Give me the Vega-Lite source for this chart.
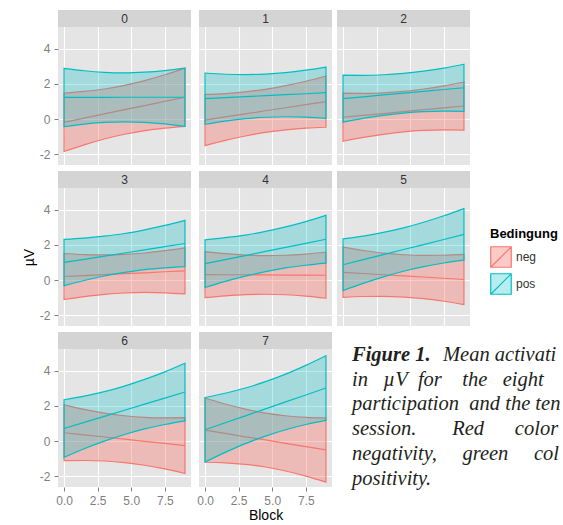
{
"$schema": "https://vega.github.io/schema/vega-lite/v6.json",
"padding": {"left": 22, "top": 10, "right": 0, "bottom": 0},
"data": {"values": [
{"panel":"0","Bedingung":"neg","Block":0,"lo":-1.85,"mid":-0.19,"hi":1.47},
{"panel":"0","Bedingung":"neg","Block":1.5,"lo":-1.47,"mid":0.05,"hi":1.57},
{"panel":"0","Bedingung":"neg","Block":3,"lo":-1.14,"mid":0.29,"hi":1.71},
{"panel":"0","Bedingung":"neg","Block":4.5,"lo":-0.87,"mid":0.53,"hi":1.92},
{"panel":"0","Bedingung":"neg","Block":6,"lo":-0.66,"mid":0.76,"hi":2.19},
{"panel":"0","Bedingung":"neg","Block":7.5,"lo":-0.52,"mid":1.00,"hi":2.52},
{"panel":"0","Bedingung":"neg","Block":9,"lo":-0.42,"mid":1.24,"hi":2.90},
{"panel":"0","Bedingung":"pos","Block":0,"lo":-0.43,"mid":1.23,"hi":2.89},
{"panel":"0","Bedingung":"pos","Block":1.5,"lo":-0.29,"mid":1.23,"hi":2.75},
{"panel":"0","Bedingung":"pos","Block":3,"lo":-0.19,"mid":1.23,"hi":2.66},
{"panel":"0","Bedingung":"pos","Block":4.5,"lo":-0.16,"mid":1.24,"hi":2.63},
{"panel":"0","Bedingung":"pos","Block":6,"lo":-0.19,"mid":1.24,"hi":2.67},
{"panel":"0","Bedingung":"pos","Block":7.5,"lo":-0.28,"mid":1.24,"hi":2.76},
{"panel":"0","Bedingung":"pos","Block":9,"lo":-0.42,"mid":1.24,"hi":2.90},
{"panel":"1","Bedingung":"neg","Block":0,"lo":-1.52,"mid":-0.06,"hi":1.40},
{"panel":"1","Bedingung":"neg","Block":1.5,"lo":-1.22,"mid":0.12,"hi":1.45},
{"panel":"1","Bedingung":"neg","Block":3,"lo":-0.97,"mid":0.29,"hi":1.55},
{"panel":"1","Bedingung":"neg","Block":4.5,"lo":-0.76,"mid":0.47,"hi":1.69},
{"panel":"1","Bedingung":"neg","Block":6,"lo":-0.62,"mid":0.64,"hi":1.90},
{"panel":"1","Bedingung":"neg","Block":7.5,"lo":-0.52,"mid":0.82,"hi":2.15},
{"panel":"1","Bedingung":"neg","Block":9,"lo":-0.47,"mid":0.99,"hi":2.45},
{"panel":"1","Bedingung":"pos","Block":0,"lo":-0.30,"mid":1.16,"hi":2.62},
{"panel":"1","Bedingung":"pos","Block":1.5,"lo":-0.12,"mid":1.22,"hi":2.55},
{"panel":"1","Bedingung":"pos","Block":3,"lo":0.02,"mid":1.27,"hi":2.53},
{"panel":"1","Bedingung":"pos","Block":4.5,"lo":0.10,"mid":1.33,"hi":2.56},
{"panel":"1","Bedingung":"pos","Block":6,"lo":0.13,"mid":1.39,"hi":2.64},
{"panel":"1","Bedingung":"pos","Block":7.5,"lo":0.11,"mid":1.44,"hi":2.78},
{"panel":"1","Bedingung":"pos","Block":9,"lo":0.04,"mid":1.50,"hi":2.96},
{"panel":"2","Bedingung":"neg","Block":0,"lo":-1.27,"mid":0.10,"hi":1.47},
{"panel":"2","Bedingung":"neg","Block":1.5,"lo":-1.05,"mid":0.21,"hi":1.46},
{"panel":"2","Bedingung":"neg","Block":3,"lo":-0.87,"mid":0.31,"hi":1.49},
{"panel":"2","Bedingung":"neg","Block":4.5,"lo":-0.73,"mid":0.42,"hi":1.57},
{"panel":"2","Bedingung":"neg","Block":6,"lo":-0.65,"mid":0.53,"hi":1.71},
{"panel":"2","Bedingung":"neg","Block":7.5,"lo":-0.62,"mid":0.63,"hi":1.89},
{"panel":"2","Bedingung":"neg","Block":9,"lo":-0.63,"mid":0.74,"hi":2.11},
{"panel":"2","Bedingung":"pos","Block":0,"lo":-0.18,"mid":1.16,"hi":2.50},
{"panel":"2","Bedingung":"pos","Block":1.5,"lo":0.04,"mid":1.26,"hi":2.49},
{"panel":"2","Bedingung":"pos","Block":3,"lo":0.21,"mid":1.37,"hi":2.52},
{"panel":"2","Bedingung":"pos","Block":4.5,"lo":0.34,"mid":1.47,"hi":2.60},
{"panel":"2","Bedingung":"pos","Block":6,"lo":0.42,"mid":1.57,"hi":2.73},
{"panel":"2","Bedingung":"pos","Block":7.5,"lo":0.45,"mid":1.68,"hi":2.90},
{"panel":"2","Bedingung":"pos","Block":9,"lo":0.44,"mid":1.78,"hi":3.12},
{"panel":"3","Bedingung":"neg","Block":0,"lo":-1.11,"mid":0.20,"hi":1.51},
{"panel":"3","Bedingung":"neg","Block":1.5,"lo":-0.95,"mid":0.25,"hi":1.45},
{"panel":"3","Bedingung":"neg","Block":3,"lo":-0.82,"mid":0.31,"hi":1.43},
{"panel":"3","Bedingung":"neg","Block":4.5,"lo":-0.74,"mid":0.36,"hi":1.46},
{"panel":"3","Bedingung":"neg","Block":6,"lo":-0.71,"mid":0.41,"hi":1.54},
{"panel":"3","Bedingung":"neg","Block":7.5,"lo":-0.73,"mid":0.47,"hi":1.67},
{"panel":"3","Bedingung":"neg","Block":9,"lo":-0.79,"mid":0.52,"hi":1.83},
{"panel":"3","Bedingung":"pos","Block":0,"lo":-0.32,"mid":1.00,"hi":2.32},
{"panel":"3","Bedingung":"pos","Block":1.5,"lo":-0.03,"mid":1.18,"hi":2.39},
{"panel":"3","Bedingung":"pos","Block":3,"lo":0.23,"mid":1.36,"hi":2.50},
{"panel":"3","Bedingung":"pos","Block":4.5,"lo":0.43,"mid":1.54,"hi":2.65},
{"panel":"3","Bedingung":"pos","Block":6,"lo":0.59,"mid":1.72,"hi":2.86},
{"panel":"3","Bedingung":"pos","Block":7.5,"lo":0.69,"mid":1.90,"hi":3.11},
{"panel":"3","Bedingung":"pos","Block":9,"lo":0.76,"mid":2.08,"hi":3.40},
{"panel":"4","Bedingung":"neg","Block":0,"lo":-1.00,"mid":0.31,"hi":1.62},
{"panel":"4","Bedingung":"neg","Block":1.5,"lo":-0.90,"mid":0.30,"hi":1.50},
{"panel":"4","Bedingung":"neg","Block":3,"lo":-0.83,"mid":0.30,"hi":1.42},
{"panel":"4","Bedingung":"neg","Block":4.5,"lo":-0.81,"mid":0.29,"hi":1.39},
{"panel":"4","Bedingung":"neg","Block":6,"lo":-0.84,"mid":0.28,"hi":1.41},
{"panel":"4","Bedingung":"neg","Block":7.5,"lo":-0.92,"mid":0.28,"hi":1.48},
{"panel":"4","Bedingung":"neg","Block":9,"lo":-1.04,"mid":0.27,"hi":1.58},
{"panel":"4","Bedingung":"pos","Block":0,"lo":-0.43,"mid":0.93,"hi":2.29},
{"panel":"4","Bedingung":"pos","Block":1.5,"lo":-0.08,"mid":1.16,"hi":2.41},
{"panel":"4","Bedingung":"pos","Block":3,"lo":0.22,"mid":1.39,"hi":2.56},
{"panel":"4","Bedingung":"pos","Block":4.5,"lo":0.48,"mid":1.63,"hi":2.77},
{"panel":"4","Bedingung":"pos","Block":6,"lo":0.69,"mid":1.86,"hi":3.03},
{"panel":"4","Bedingung":"pos","Block":7.5,"lo":0.84,"mid":2.09,"hi":3.33},
{"panel":"4","Bedingung":"pos","Block":9,"lo":0.96,"mid":2.32,"hi":3.68},
{"panel":"5","Bedingung":"neg","Block":0,"lo":-0.99,"mid":0.44,"hi":1.87},
{"panel":"5","Bedingung":"neg","Block":1.5,"lo":-0.94,"mid":0.37,"hi":1.68},
{"panel":"5","Bedingung":"neg","Block":3,"lo":-0.93,"mid":0.30,"hi":1.53},
{"panel":"5","Bedingung":"neg","Block":4.5,"lo":-0.97,"mid":0.24,"hi":1.44},
{"panel":"5","Bedingung":"neg","Block":6,"lo":-1.06,"mid":0.17,"hi":1.40},
{"panel":"5","Bedingung":"neg","Block":7.5,"lo":-1.21,"mid":0.10,"hi":1.41},
{"panel":"5","Bedingung":"neg","Block":9,"lo":-1.40,"mid":0.03,"hi":1.46},
{"panel":"5","Bedingung":"pos","Block":0,"lo":-0.60,"mid":0.87,"hi":2.34},
{"panel":"5","Bedingung":"pos","Block":1.5,"lo":-0.19,"mid":1.16,"hi":2.50},
{"panel":"5","Bedingung":"pos","Block":3,"lo":0.18,"mid":1.45,"hi":2.71},
{"panel":"5","Bedingung":"pos","Block":4.5,"lo":0.50,"mid":1.74,"hi":2.97},
{"panel":"5","Bedingung":"pos","Block":6,"lo":0.76,"mid":2.02,"hi":3.29},
{"panel":"5","Bedingung":"pos","Block":7.5,"lo":0.97,"mid":2.31,"hi":3.66},
{"panel":"5","Bedingung":"pos","Block":9,"lo":1.13,"mid":2.60,"hi":4.07},
{"panel":"6","Bedingung":"neg","Block":0,"lo":-1.12,"mid":0.47,"hi":2.06},
{"panel":"6","Bedingung":"neg","Block":1.5,"lo":-1.11,"mid":0.35,"hi":1.80},
{"panel":"6","Bedingung":"neg","Block":3,"lo":-1.14,"mid":0.23,"hi":1.59},
{"panel":"6","Bedingung":"neg","Block":4.5,"lo":-1.23,"mid":0.11,"hi":1.44},
{"panel":"6","Bedingung":"neg","Block":6,"lo":-1.38,"mid":-0.02,"hi":1.35},
{"panel":"6","Bedingung":"neg","Block":7.5,"lo":-1.59,"mid":-0.14,"hi":1.32},
{"panel":"6","Bedingung":"neg","Block":9,"lo":-1.85,"mid":-0.26,"hi":1.33},
{"panel":"6","Bedingung":"pos","Block":0,"lo":-0.93,"mid":0.71,"hi":2.35},
{"panel":"6","Bedingung":"pos","Block":1.5,"lo":-0.44,"mid":1.06,"hi":2.56},
{"panel":"6","Bedingung":"pos","Block":3,"lo":-0.01,"mid":1.40,"hi":2.81},
{"panel":"6","Bedingung":"pos","Block":4.5,"lo":0.37,"mid":1.75,"hi":3.13},
{"panel":"6","Bedingung":"pos","Block":6,"lo":0.69,"mid":2.10,"hi":3.51},
{"panel":"6","Bedingung":"pos","Block":7.5,"lo":0.94,"mid":2.44,"hi":3.94},
{"panel":"6","Bedingung":"pos","Block":9,"lo":1.15,"mid":2.79,"hi":4.43},
{"panel":"7","Bedingung":"neg","Block":0,"lo":-1.21,"mid":0.62,"hi":2.45},
{"panel":"7","Bedingung":"neg","Block":1.5,"lo":-1.24,"mid":0.43,"hi":2.11},
{"panel":"7","Bedingung":"neg","Block":3,"lo":-1.33,"mid":0.24,"hi":1.82},
{"panel":"7","Bedingung":"neg","Block":4.5,"lo":-1.48,"mid":0.06,"hi":1.59},
{"panel":"7","Bedingung":"neg","Block":6,"lo":-1.71,"mid":-0.13,"hi":1.44},
{"panel":"7","Bedingung":"neg","Block":7.5,"lo":-2.00,"mid":-0.32,"hi":1.35},
{"panel":"7","Bedingung":"neg","Block":9,"lo":-2.34,"mid":-0.51,"hi":1.32},
{"panel":"7","Bedingung":"pos","Block":0,"lo":-1.20,"mid":0.64,"hi":2.48},
{"panel":"7","Bedingung":"pos","Block":1.5,"lo":-0.65,"mid":1.04,"hi":2.72},
{"panel":"7","Bedingung":"pos","Block":3,"lo":-0.15,"mid":1.43,"hi":3.02},
{"panel":"7","Bedingung":"pos","Block":4.5,"lo":0.28,"mid":1.83,"hi":3.38},
{"panel":"7","Bedingung":"pos","Block":6,"lo":0.64,"mid":2.23,"hi":3.81},
{"panel":"7","Bedingung":"pos","Block":7.5,"lo":0.94,"mid":2.62,"hi":4.31},
{"panel":"7","Bedingung":"pos","Block":9,"lo":1.18,"mid":3.02,"hi":4.86}
]},
"columns": 3,
"spacing": {"row": 6, "column": 5},
"resolve": {"scale": {"fill": "shared", "stroke": "shared"}, "legend": {"fill": "shared", "stroke": "shared"}},
"concat": [
{"width":133,"height":155,"transform":[{"filter":{"field":"panel","equal":"0"}}],
 "layer":[
  {"transform":[{"filter":"datum.Bedingung === 'neg'"}],"mark":{"type":"area","strokeWidth":1.2,"interpolate":"monotone"},
   "encoding":{
    "x":{"field":"Block","type":"quantitative","scale":{"domain":[-0.45,9.45],"nice":false,"zero":false},"axis":{"values":[0,1.25,2.5,3.75,5,6.25,7.5,8.75],"grid":true,"gridColor":{"condition":{"test":"datum.value % 2.5 === 0","value":"#ffffff"},"value":"#f2f2f2"},"gridWidth":{"condition":{"test":"datum.value % 2.5 === 0","value":1.1},"value":0.55},"labels":false,"ticks":false,"title":null}},
    "y":{"field":"lo","type":"quantitative","scale":{"domain":[-2.62,6.21],"nice":false,"zero":false},"axis":{"values":[-2,-1,0,1,2,3,4,5],"grid":true,"gridColor":{"condition":{"test":"datum.value % 2 === 0","value":"#ffffff"},"value":"#f2f2f2"},"gridWidth":{"condition":{"test":"datum.value % 2 === 0","value":1.1},"value":0.55},"labelExpr":"datum.value % 2 === 0 ? '' + datum.value : ''","tickColor":{"condition":{"test":"datum.value % 2 === 0","value":"#7f7f7f"},"value":"transparent"},"labelPadding":4,"title":null}},
    "y2":{"field":"hi"},
    "fill":{"field":"Bedingung","type":"nominal","scale":{"domain":["neg","pos"],"range":["rgba(248,118,109,0.38)","rgba(0,191,196,0.28)"]},"legend":{"symbolType":"M-1,-1H1V1H-1Z M-1,1L1,-1"}},
    "stroke":{"field":"Bedingung","type":"nominal","scale":{"domain":["neg","pos"],"range":["#F8766D","#00BFC4"]},"legend":{"symbolType":"M-1,-1H1V1H-1Z M-1,1L1,-1"}}}},
  {"transform":[{"filter":"datum.Bedingung === 'neg'"}],"mark":{"type":"line","strokeWidth":1.2},
   "encoding":{"x":{"field":"Block","type":"quantitative"},"y":{"field":"mid","type":"quantitative"},"stroke":{"field":"Bedingung","type":"nominal"}}},
  {"transform":[{"filter":"datum.Bedingung === 'pos'"}],"mark":{"type":"area","strokeWidth":1.2,"interpolate":"monotone"},
   "encoding":{"x":{"field":"Block","type":"quantitative"},"y":{"field":"lo","type":"quantitative"},"y2":{"field":"hi"},"fill":{"field":"Bedingung","type":"nominal"},"stroke":{"field":"Bedingung","type":"nominal"}}},
  {"transform":[{"filter":"datum.Bedingung === 'pos'"}],"mark":{"type":"line","strokeWidth":1.2},
   "encoding":{"x":{"field":"Block","type":"quantitative"},"y":{"field":"mid","type":"quantitative"},"stroke":{"field":"Bedingung","type":"nominal"}}},
  {"transform":[{"filter":"datum.Block === 0 && datum.Bedingung === 'neg'"}],"mark":{"type":"rect","fill":"#d4d4d4"},
   "encoding":{"x":{"datum":-0.45},"x2":{"datum":9.45},"y":{"datum":5.24},"y2":{"datum":6.21}}},
  {"transform":[{"filter":"datum.Block === 0 && datum.Bedingung === 'neg'"}],"mark":{"type":"text","fontSize":12,"color":"#333333"},
   "encoding":{"x":{"datum":4.5},"y":{"datum":5.725},"text":{"field":"panel"}}}
 ]},
{"width":133,"height":155,"transform":[{"filter":{"field":"panel","equal":"1"}}],
 "layer":[
  {"transform":[{"filter":"datum.Bedingung === 'neg'"}],"mark":{"type":"area","strokeWidth":1.2,"interpolate":"monotone"},
   "encoding":{
    "x":{"field":"Block","type":"quantitative","scale":{"domain":[-0.45,9.45],"nice":false,"zero":false},"axis":{"values":[0,1.25,2.5,3.75,5,6.25,7.5,8.75],"grid":true,"gridColor":{"condition":{"test":"datum.value % 2.5 === 0","value":"#ffffff"},"value":"#f2f2f2"},"gridWidth":{"condition":{"test":"datum.value % 2.5 === 0","value":1.1},"value":0.55},"labels":false,"ticks":false,"title":null}},
    "y":{"field":"lo","type":"quantitative","scale":{"domain":[-2.62,6.21],"nice":false,"zero":false},"axis":{"values":[-2,-1,0,1,2,3,4,5],"grid":true,"gridColor":{"condition":{"test":"datum.value % 2 === 0","value":"#ffffff"},"value":"#f2f2f2"},"gridWidth":{"condition":{"test":"datum.value % 2 === 0","value":1.1},"value":0.55},"labels":false,"ticks":false,"title":null}},
    "y2":{"field":"hi"},
    "fill":{"field":"Bedingung","type":"nominal","scale":{"domain":["neg","pos"],"range":["rgba(248,118,109,0.38)","rgba(0,191,196,0.28)"]}},
    "stroke":{"field":"Bedingung","type":"nominal","scale":{"domain":["neg","pos"],"range":["#F8766D","#00BFC4"]}}}},
  {"transform":[{"filter":"datum.Bedingung === 'neg'"}],"mark":{"type":"line","strokeWidth":1.2},
   "encoding":{"x":{"field":"Block","type":"quantitative"},"y":{"field":"mid","type":"quantitative"},"stroke":{"field":"Bedingung","type":"nominal"}}},
  {"transform":[{"filter":"datum.Bedingung === 'pos'"}],"mark":{"type":"area","strokeWidth":1.2,"interpolate":"monotone"},
   "encoding":{"x":{"field":"Block","type":"quantitative"},"y":{"field":"lo","type":"quantitative"},"y2":{"field":"hi"},"fill":{"field":"Bedingung","type":"nominal"},"stroke":{"field":"Bedingung","type":"nominal"}}},
  {"transform":[{"filter":"datum.Bedingung === 'pos'"}],"mark":{"type":"line","strokeWidth":1.2},
   "encoding":{"x":{"field":"Block","type":"quantitative"},"y":{"field":"mid","type":"quantitative"},"stroke":{"field":"Bedingung","type":"nominal"}}},
  {"transform":[{"filter":"datum.Block === 0 && datum.Bedingung === 'neg'"}],"mark":{"type":"rect","fill":"#d4d4d4"},
   "encoding":{"x":{"datum":-0.45},"x2":{"datum":9.45},"y":{"datum":5.24},"y2":{"datum":6.21}}},
  {"transform":[{"filter":"datum.Block === 0 && datum.Bedingung === 'neg'"}],"mark":{"type":"text","fontSize":12,"color":"#333333"},
   "encoding":{"x":{"datum":4.5},"y":{"datum":5.725},"text":{"field":"panel"}}}
 ]},
{"width":133,"height":155,"transform":[{"filter":{"field":"panel","equal":"2"}}],
 "layer":[
  {"transform":[{"filter":"datum.Bedingung === 'neg'"}],"mark":{"type":"area","strokeWidth":1.2,"interpolate":"monotone"},
   "encoding":{
    "x":{"field":"Block","type":"quantitative","scale":{"domain":[-0.45,9.45],"nice":false,"zero":false},"axis":{"values":[0,1.25,2.5,3.75,5,6.25,7.5,8.75],"grid":true,"gridColor":{"condition":{"test":"datum.value % 2.5 === 0","value":"#ffffff"},"value":"#f2f2f2"},"gridWidth":{"condition":{"test":"datum.value % 2.5 === 0","value":1.1},"value":0.55},"labels":false,"ticks":false,"title":null}},
    "y":{"field":"lo","type":"quantitative","scale":{"domain":[-2.62,6.21],"nice":false,"zero":false},"axis":{"values":[-2,-1,0,1,2,3,4,5],"grid":true,"gridColor":{"condition":{"test":"datum.value % 2 === 0","value":"#ffffff"},"value":"#f2f2f2"},"gridWidth":{"condition":{"test":"datum.value % 2 === 0","value":1.1},"value":0.55},"labels":false,"ticks":false,"title":null}},
    "y2":{"field":"hi"},
    "fill":{"field":"Bedingung","type":"nominal","scale":{"domain":["neg","pos"],"range":["rgba(248,118,109,0.38)","rgba(0,191,196,0.28)"]}},
    "stroke":{"field":"Bedingung","type":"nominal","scale":{"domain":["neg","pos"],"range":["#F8766D","#00BFC4"]}}}},
  {"transform":[{"filter":"datum.Bedingung === 'neg'"}],"mark":{"type":"line","strokeWidth":1.2},
   "encoding":{"x":{"field":"Block","type":"quantitative"},"y":{"field":"mid","type":"quantitative"},"stroke":{"field":"Bedingung","type":"nominal"}}},
  {"transform":[{"filter":"datum.Bedingung === 'pos'"}],"mark":{"type":"area","strokeWidth":1.2,"interpolate":"monotone"},
   "encoding":{"x":{"field":"Block","type":"quantitative"},"y":{"field":"lo","type":"quantitative"},"y2":{"field":"hi"},"fill":{"field":"Bedingung","type":"nominal"},"stroke":{"field":"Bedingung","type":"nominal"}}},
  {"transform":[{"filter":"datum.Bedingung === 'pos'"}],"mark":{"type":"line","strokeWidth":1.2},
   "encoding":{"x":{"field":"Block","type":"quantitative"},"y":{"field":"mid","type":"quantitative"},"stroke":{"field":"Bedingung","type":"nominal"}}},
  {"transform":[{"filter":"datum.Block === 0 && datum.Bedingung === 'neg'"}],"mark":{"type":"rect","fill":"#d4d4d4"},
   "encoding":{"x":{"datum":-0.45},"x2":{"datum":9.45},"y":{"datum":5.24},"y2":{"datum":6.21}}},
  {"transform":[{"filter":"datum.Block === 0 && datum.Bedingung === 'neg'"}],"mark":{"type":"text","fontSize":12,"color":"#333333"},
   "encoding":{"x":{"datum":4.5},"y":{"datum":5.725},"text":{"field":"panel"}}}
 ]},
{"width":133,"height":155,"transform":[{"filter":{"field":"panel","equal":"3"}}],
 "layer":[
  {"transform":[{"filter":"datum.Bedingung === 'neg'"}],"mark":{"type":"area","strokeWidth":1.2,"interpolate":"monotone"},
   "encoding":{
    "x":{"field":"Block","type":"quantitative","scale":{"domain":[-0.45,9.45],"nice":false,"zero":false},"axis":{"values":[0,1.25,2.5,3.75,5,6.25,7.5,8.75],"grid":true,"gridColor":{"condition":{"test":"datum.value % 2.5 === 0","value":"#ffffff"},"value":"#f2f2f2"},"gridWidth":{"condition":{"test":"datum.value % 2.5 === 0","value":1.1},"value":0.55},"labels":false,"ticks":false,"title":null}},
    "y":{"field":"lo","type":"quantitative","scale":{"domain":[-2.62,6.21],"nice":false,"zero":false},"axis":{"values":[-2,-1,0,1,2,3,4,5],"grid":true,"gridColor":{"condition":{"test":"datum.value % 2 === 0","value":"#ffffff"},"value":"#f2f2f2"},"gridWidth":{"condition":{"test":"datum.value % 2 === 0","value":1.1},"value":0.55},"labelExpr":"datum.value % 2 === 0 ? '' + datum.value : ''","tickColor":{"condition":{"test":"datum.value % 2 === 0","value":"#7f7f7f"},"value":"transparent"},"labelPadding":4,"title":"µV","titlePadding":3,"titleY":86}},
    "y2":{"field":"hi"},
    "fill":{"field":"Bedingung","type":"nominal","scale":{"domain":["neg","pos"],"range":["rgba(248,118,109,0.38)","rgba(0,191,196,0.28)"]}},
    "stroke":{"field":"Bedingung","type":"nominal","scale":{"domain":["neg","pos"],"range":["#F8766D","#00BFC4"]}}}},
  {"transform":[{"filter":"datum.Bedingung === 'neg'"}],"mark":{"type":"line","strokeWidth":1.2},
   "encoding":{"x":{"field":"Block","type":"quantitative"},"y":{"field":"mid","type":"quantitative"},"stroke":{"field":"Bedingung","type":"nominal"}}},
  {"transform":[{"filter":"datum.Bedingung === 'pos'"}],"mark":{"type":"area","strokeWidth":1.2,"interpolate":"monotone"},
   "encoding":{"x":{"field":"Block","type":"quantitative"},"y":{"field":"lo","type":"quantitative"},"y2":{"field":"hi"},"fill":{"field":"Bedingung","type":"nominal"},"stroke":{"field":"Bedingung","type":"nominal"}}},
  {"transform":[{"filter":"datum.Bedingung === 'pos'"}],"mark":{"type":"line","strokeWidth":1.2},
   "encoding":{"x":{"field":"Block","type":"quantitative"},"y":{"field":"mid","type":"quantitative"},"stroke":{"field":"Bedingung","type":"nominal"}}},
  {"transform":[{"filter":"datum.Block === 0 && datum.Bedingung === 'neg'"}],"mark":{"type":"rect","fill":"#d4d4d4"},
   "encoding":{"x":{"datum":-0.45},"x2":{"datum":9.45},"y":{"datum":5.24},"y2":{"datum":6.21}}},
  {"transform":[{"filter":"datum.Block === 0 && datum.Bedingung === 'neg'"}],"mark":{"type":"text","fontSize":12,"color":"#333333"},
   "encoding":{"x":{"datum":4.5},"y":{"datum":5.725},"text":{"field":"panel"}}}
 ]},
{"width":133,"height":155,"transform":[{"filter":{"field":"panel","equal":"4"}}],
 "layer":[
  {"transform":[{"filter":"datum.Bedingung === 'neg'"}],"mark":{"type":"area","strokeWidth":1.2,"interpolate":"monotone"},
   "encoding":{
    "x":{"field":"Block","type":"quantitative","scale":{"domain":[-0.45,9.45],"nice":false,"zero":false},"axis":{"values":[0,1.25,2.5,3.75,5,6.25,7.5,8.75],"grid":true,"gridColor":{"condition":{"test":"datum.value % 2.5 === 0","value":"#ffffff"},"value":"#f2f2f2"},"gridWidth":{"condition":{"test":"datum.value % 2.5 === 0","value":1.1},"value":0.55},"labels":false,"ticks":false,"title":null}},
    "y":{"field":"lo","type":"quantitative","scale":{"domain":[-2.62,6.21],"nice":false,"zero":false},"axis":{"values":[-2,-1,0,1,2,3,4,5],"grid":true,"gridColor":{"condition":{"test":"datum.value % 2 === 0","value":"#ffffff"},"value":"#f2f2f2"},"gridWidth":{"condition":{"test":"datum.value % 2 === 0","value":1.1},"value":0.55},"labels":false,"ticks":false,"title":null}},
    "y2":{"field":"hi"},
    "fill":{"field":"Bedingung","type":"nominal","scale":{"domain":["neg","pos"],"range":["rgba(248,118,109,0.38)","rgba(0,191,196,0.28)"]}},
    "stroke":{"field":"Bedingung","type":"nominal","scale":{"domain":["neg","pos"],"range":["#F8766D","#00BFC4"]}}}},
  {"transform":[{"filter":"datum.Bedingung === 'neg'"}],"mark":{"type":"line","strokeWidth":1.2},
   "encoding":{"x":{"field":"Block","type":"quantitative"},"y":{"field":"mid","type":"quantitative"},"stroke":{"field":"Bedingung","type":"nominal"}}},
  {"transform":[{"filter":"datum.Bedingung === 'pos'"}],"mark":{"type":"area","strokeWidth":1.2,"interpolate":"monotone"},
   "encoding":{"x":{"field":"Block","type":"quantitative"},"y":{"field":"lo","type":"quantitative"},"y2":{"field":"hi"},"fill":{"field":"Bedingung","type":"nominal"},"stroke":{"field":"Bedingung","type":"nominal"}}},
  {"transform":[{"filter":"datum.Bedingung === 'pos'"}],"mark":{"type":"line","strokeWidth":1.2},
   "encoding":{"x":{"field":"Block","type":"quantitative"},"y":{"field":"mid","type":"quantitative"},"stroke":{"field":"Bedingung","type":"nominal"}}},
  {"transform":[{"filter":"datum.Block === 0 && datum.Bedingung === 'neg'"}],"mark":{"type":"rect","fill":"#d4d4d4"},
   "encoding":{"x":{"datum":-0.45},"x2":{"datum":9.45},"y":{"datum":5.24},"y2":{"datum":6.21}}},
  {"transform":[{"filter":"datum.Block === 0 && datum.Bedingung === 'neg'"}],"mark":{"type":"text","fontSize":12,"color":"#333333"},
   "encoding":{"x":{"datum":4.5},"y":{"datum":5.725},"text":{"field":"panel"}}}
 ]},
{"width":133,"height":155,"transform":[{"filter":{"field":"panel","equal":"5"}}],
 "layer":[
  {"transform":[{"filter":"datum.Bedingung === 'neg'"}],"mark":{"type":"area","strokeWidth":1.2,"interpolate":"monotone"},
   "encoding":{
    "x":{"field":"Block","type":"quantitative","scale":{"domain":[-0.45,9.45],"nice":false,"zero":false},"axis":{"values":[0,1.25,2.5,3.75,5,6.25,7.5,8.75],"grid":true,"gridColor":{"condition":{"test":"datum.value % 2.5 === 0","value":"#ffffff"},"value":"#f2f2f2"},"gridWidth":{"condition":{"test":"datum.value % 2.5 === 0","value":1.1},"value":0.55},"labels":false,"ticks":false,"title":null}},
    "y":{"field":"lo","type":"quantitative","scale":{"domain":[-2.62,6.21],"nice":false,"zero":false},"axis":{"values":[-2,-1,0,1,2,3,4,5],"grid":true,"gridColor":{"condition":{"test":"datum.value % 2 === 0","value":"#ffffff"},"value":"#f2f2f2"},"gridWidth":{"condition":{"test":"datum.value % 2 === 0","value":1.1},"value":0.55},"labels":false,"ticks":false,"title":null}},
    "y2":{"field":"hi"},
    "fill":{"field":"Bedingung","type":"nominal","scale":{"domain":["neg","pos"],"range":["rgba(248,118,109,0.38)","rgba(0,191,196,0.28)"]}},
    "stroke":{"field":"Bedingung","type":"nominal","scale":{"domain":["neg","pos"],"range":["#F8766D","#00BFC4"]}}}},
  {"transform":[{"filter":"datum.Bedingung === 'neg'"}],"mark":{"type":"line","strokeWidth":1.2},
   "encoding":{"x":{"field":"Block","type":"quantitative"},"y":{"field":"mid","type":"quantitative"},"stroke":{"field":"Bedingung","type":"nominal"}}},
  {"transform":[{"filter":"datum.Bedingung === 'pos'"}],"mark":{"type":"area","strokeWidth":1.2,"interpolate":"monotone"},
   "encoding":{"x":{"field":"Block","type":"quantitative"},"y":{"field":"lo","type":"quantitative"},"y2":{"field":"hi"},"fill":{"field":"Bedingung","type":"nominal"},"stroke":{"field":"Bedingung","type":"nominal"}}},
  {"transform":[{"filter":"datum.Bedingung === 'pos'"}],"mark":{"type":"line","strokeWidth":1.2},
   "encoding":{"x":{"field":"Block","type":"quantitative"},"y":{"field":"mid","type":"quantitative"},"stroke":{"field":"Bedingung","type":"nominal"}}},
  {"transform":[{"filter":"datum.Block === 0 && datum.Bedingung === 'neg'"}],"mark":{"type":"rect","fill":"#d4d4d4"},
   "encoding":{"x":{"datum":-0.45},"x2":{"datum":9.45},"y":{"datum":5.24},"y2":{"datum":6.21}}},
  {"transform":[{"filter":"datum.Block === 0 && datum.Bedingung === 'neg'"}],"mark":{"type":"text","fontSize":12,"color":"#333333"},
   "encoding":{"x":{"datum":4.5},"y":{"datum":5.725},"text":{"field":"panel"}}}
 ]},
{"width":133,"height":155,"transform":[{"filter":{"field":"panel","equal":"6"}}],
 "layer":[
  {"transform":[{"filter":"datum.Bedingung === 'neg'"}],"mark":{"type":"area","strokeWidth":1.2,"interpolate":"monotone"},
   "encoding":{
    "x":{"field":"Block","type":"quantitative","scale":{"domain":[-0.45,9.45],"nice":false,"zero":false},"axis":{"values":[0,1.25,2.5,3.75,5,6.25,7.5,8.75],"grid":true,"gridColor":{"condition":{"test":"datum.value % 2.5 === 0","value":"#ffffff"},"value":"#f2f2f2"},"gridWidth":{"condition":{"test":"datum.value % 2.5 === 0","value":1.1},"value":0.55},"labelExpr":"datum.value % 2.5 === 0 ? format(datum.value, '.1f') : ''","tickColor":{"condition":{"test":"datum.value % 2.5 === 0","value":"#7f7f7f"},"value":"transparent"},"labelPadding":4,"title":null}},
    "y":{"field":"lo","type":"quantitative","scale":{"domain":[-2.62,6.21],"nice":false,"zero":false},"axis":{"values":[-2,-1,0,1,2,3,4,5],"grid":true,"gridColor":{"condition":{"test":"datum.value % 2 === 0","value":"#ffffff"},"value":"#f2f2f2"},"gridWidth":{"condition":{"test":"datum.value % 2 === 0","value":1.1},"value":0.55},"labelExpr":"datum.value % 2 === 0 ? '' + datum.value : ''","tickColor":{"condition":{"test":"datum.value % 2 === 0","value":"#7f7f7f"},"value":"transparent"},"labelPadding":4,"title":null}},
    "y2":{"field":"hi"},
    "fill":{"field":"Bedingung","type":"nominal","scale":{"domain":["neg","pos"],"range":["rgba(248,118,109,0.38)","rgba(0,191,196,0.28)"]}},
    "stroke":{"field":"Bedingung","type":"nominal","scale":{"domain":["neg","pos"],"range":["#F8766D","#00BFC4"]}}}},
  {"transform":[{"filter":"datum.Bedingung === 'neg'"}],"mark":{"type":"line","strokeWidth":1.2},
   "encoding":{"x":{"field":"Block","type":"quantitative"},"y":{"field":"mid","type":"quantitative"},"stroke":{"field":"Bedingung","type":"nominal"}}},
  {"transform":[{"filter":"datum.Bedingung === 'pos'"}],"mark":{"type":"area","strokeWidth":1.2,"interpolate":"monotone"},
   "encoding":{"x":{"field":"Block","type":"quantitative"},"y":{"field":"lo","type":"quantitative"},"y2":{"field":"hi"},"fill":{"field":"Bedingung","type":"nominal"},"stroke":{"field":"Bedingung","type":"nominal"}}},
  {"transform":[{"filter":"datum.Bedingung === 'pos'"}],"mark":{"type":"line","strokeWidth":1.2},
   "encoding":{"x":{"field":"Block","type":"quantitative"},"y":{"field":"mid","type":"quantitative"},"stroke":{"field":"Bedingung","type":"nominal"}}},
  {"transform":[{"filter":"datum.Block === 0 && datum.Bedingung === 'neg'"}],"mark":{"type":"rect","fill":"#d4d4d4"},
   "encoding":{"x":{"datum":-0.45},"x2":{"datum":9.45},"y":{"datum":5.24},"y2":{"datum":6.21}}},
  {"transform":[{"filter":"datum.Block === 0 && datum.Bedingung === 'neg'"}],"mark":{"type":"text","fontSize":12,"color":"#333333"},
   "encoding":{"x":{"datum":4.5},"y":{"datum":5.725},"text":{"field":"panel"}}}
 ]},
{"width":133,"height":155,"transform":[{"filter":{"field":"panel","equal":"7"}}],
 "layer":[
  {"transform":[{"filter":"datum.Bedingung === 'neg'"}],"mark":{"type":"area","strokeWidth":1.2,"interpolate":"monotone"},
   "encoding":{
    "x":{"field":"Block","type":"quantitative","scale":{"domain":[-0.45,9.45],"nice":false,"zero":false},"axis":{"values":[0,1.25,2.5,3.75,5,6.25,7.5,8.75],"grid":true,"gridColor":{"condition":{"test":"datum.value % 2.5 === 0","value":"#ffffff"},"value":"#f2f2f2"},"gridWidth":{"condition":{"test":"datum.value % 2.5 === 0","value":1.1},"value":0.55},"labelExpr":"datum.value % 2.5 === 0 ? format(datum.value, '.1f') : ''","tickColor":{"condition":{"test":"datum.value % 2.5 === 0","value":"#7f7f7f"},"value":"transparent"},"labelPadding":4,"title":"Block","titlePadding":2}},
    "y":{"field":"lo","type":"quantitative","scale":{"domain":[-2.62,6.21],"nice":false,"zero":false},"axis":{"values":[-2,-1,0,1,2,3,4,5],"grid":true,"gridColor":{"condition":{"test":"datum.value % 2 === 0","value":"#ffffff"},"value":"#f2f2f2"},"gridWidth":{"condition":{"test":"datum.value % 2 === 0","value":1.1},"value":0.55},"labels":false,"ticks":false,"title":null}},
    "y2":{"field":"hi"},
    "fill":{"field":"Bedingung","type":"nominal","scale":{"domain":["neg","pos"],"range":["rgba(248,118,109,0.38)","rgba(0,191,196,0.28)"]}},
    "stroke":{"field":"Bedingung","type":"nominal","scale":{"domain":["neg","pos"],"range":["#F8766D","#00BFC4"]}}}},
  {"transform":[{"filter":"datum.Bedingung === 'neg'"}],"mark":{"type":"line","strokeWidth":1.2},
   "encoding":{"x":{"field":"Block","type":"quantitative"},"y":{"field":"mid","type":"quantitative"},"stroke":{"field":"Bedingung","type":"nominal"}}},
  {"transform":[{"filter":"datum.Bedingung === 'pos'"}],"mark":{"type":"area","strokeWidth":1.2,"interpolate":"monotone"},
   "encoding":{"x":{"field":"Block","type":"quantitative"},"y":{"field":"lo","type":"quantitative"},"y2":{"field":"hi"},"fill":{"field":"Bedingung","type":"nominal"},"stroke":{"field":"Bedingung","type":"nominal"}}},
  {"transform":[{"filter":"datum.Bedingung === 'pos'"}],"mark":{"type":"line","strokeWidth":1.2},
   "encoding":{"x":{"field":"Block","type":"quantitative"},"y":{"field":"mid","type":"quantitative"},"stroke":{"field":"Bedingung","type":"nominal"}}},
  {"transform":[{"filter":"datum.Block === 0 && datum.Bedingung === 'neg'"}],"mark":{"type":"rect","fill":"#d4d4d4"},
   "encoding":{"x":{"datum":-0.45},"x2":{"datum":9.45},"y":{"datum":5.24},"y2":{"datum":6.21}}},
  {"transform":[{"filter":"datum.Block === 0 && datum.Bedingung === 'neg'"}],"mark":{"type":"text","fontSize":12,"color":"#333333"},
   "encoding":{"x":{"datum":4.5},"y":{"datum":5.725},"text":{"field":"panel"}}}
 ]},
{"width":133,"height":155,"view":{"fill":"white","stroke":null},
 "data":{"values":[
  {"line":1,"part":"a","text":"Figure 1."},
  {"line":1,"part":"b","text":"Mean activati"},
  {"line":2,"part":"c","text":"in\u00a0\u00a0\u00a0µV\u00a0\u00a0for\u00a0\u00a0\u00a0\u00a0the\u00a0\u00a0\u00a0eight"},
  {"line":3,"part":"c","text":"participation\u00a0\u00a0and the ten"},
  {"line":4,"part":"c","text":"session.\u00a0\u00a0\u00a0\u00a0\u00a0\u00a0\u00a0Red\u00a0\u00a0\u00a0\u00a0\u00a0\u00a0color"},
  {"line":5,"part":"c","text":"negativity,\u00a0\u00a0\u00a0\u00a0\u00a0green\u00a0\u00a0\u00a0\u00a0\u00a0col"},
  {"line":6,"part":"c","text":"positivity."}
 ]},
 "encoding":{
  "x":{"datum":0,"type":"quantitative","scale":{"domain":[0,1]},"axis":null},
  "y":{"field":"line","type":"quantitative","scale":{"domain":[-0.16,6.08],"reverse":true,"nice":false,"zero":false},"axis":null},
  "text":{"field":"text"}},
 "layer":[
  {"transform":[{"filter":"datum.part === 'a'"}],"mark":{"type":"text","font":"Liberation Serif","fontStyle":"italic","fontWeight":"bold","fontSize":20.5,"align":"left","baseline":"alphabetic","dx":15,"color":"#231f20"}},
  {"transform":[{"filter":"datum.part === 'b'"}],"mark":{"type":"text","font":"Liberation Serif","fontStyle":"italic","fontSize":20.5,"align":"left","baseline":"alphabetic","dx":106,"color":"#231f20"}},
  {"transform":[{"filter":"datum.part === 'c'"}],"mark":{"type":"text","font":"Liberation Serif","fontStyle":"italic","fontSize":20.5,"align":"left","baseline":"alphabetic","dx":15,"color":"#231f20"}}
 ]}
],
"config": {
 "font": "Liberation Sans",
 "view": {"fill": "#e5e5e5", "stroke": null},
 "axis": {"domain": false, "tickColor": "#7f7f7f", "labelColor": "#7f7f7f", "labelFontSize": 12, "titleFontSize": 14, "titleFontWeight": "normal", "titleColor": "#000000", "tickSize": 4, "labelFlush": false, "labelOverlap": false},
 "legend": {"orient": "none", "legendX": 432, "legendY": 218, "symbolSize": 420, "symbolStrokeWidth": 1.2, "titleFontSize": 13, "titleFontWeight": "bold", "titleColor": "#000000", "labelFontSize": 12, "labelColor": "#333333", "rowPadding": 1, "titlePadding": 5}
}
}
